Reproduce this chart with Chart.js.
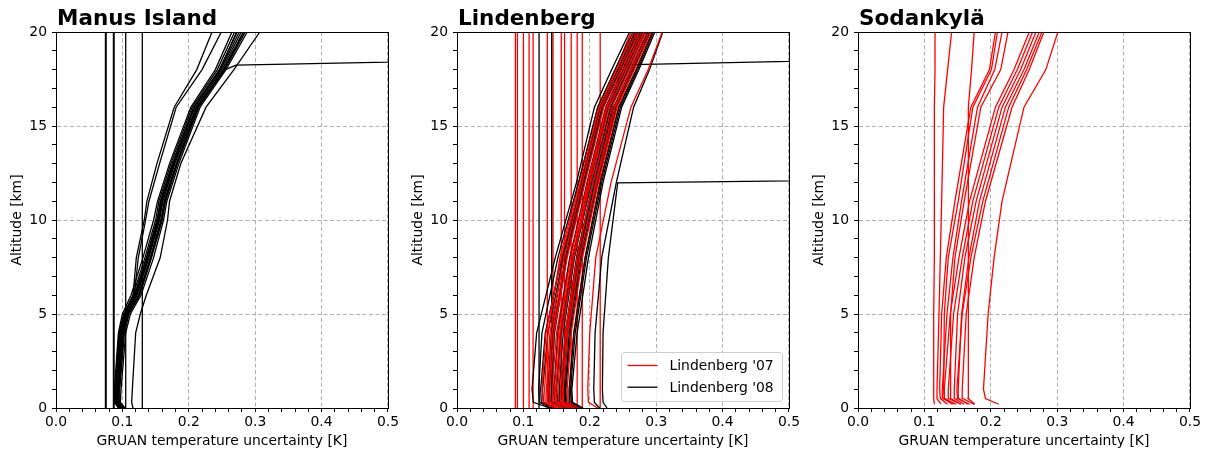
<!DOCTYPE html>
<html>
<head>
<meta charset="utf-8">
<script src="https://cdn.jsdelivr.net/npm/chart.js@4.4.1/dist/chart.umd.min.js"></script>
<style>
  html, body { margin: 0; padding: 0; background: #fff; }
  #wrap { position: relative; width: 1208px; height: 454px; }
  canvas { position: absolute; top: 0; }
</style>
</head>
<body>
<div id="wrap">
  <canvas id="manus" width="401" height="454" style="left:0px"></canvas>
  <canvas id="lind" width="401" height="454" style="left:401px"></canvas>
  <canvas id="soda" width="401" height="454" style="left:802px"></canvas>
</div>
<script>
// Temperature uncertainty profiles (K) against altitude (km) for three GRUAN sites

const FIXED_ALT = [0, 20];

// ---- Manus Island ----
const MANUS_ALT = [0, 0.3, 1, 4, 5, 6, 8, 10, 11, 13, 16, 18, 20];
const MANUS_UNC = [
    [0.094, 0.088, 0.088, 0.094, 0.100, 0.113, 0.131, 0.147, 0.153, 0.171, 0.203, 0.240, 0.265],
    [0.096, 0.089, 0.089, 0.095, 0.102, 0.116, 0.134, 0.150, 0.155, 0.173, 0.205, 0.243, 0.269],
    [0.098, 0.090, 0.090, 0.096, 0.103, 0.118, 0.136, 0.152, 0.157, 0.175, 0.207, 0.246, 0.273],
    [0.099, 0.091, 0.091, 0.097, 0.105, 0.120, 0.138, 0.154, 0.159, 0.177, 0.209, 0.248, 0.276],
    [0.101, 0.092, 0.092, 0.099, 0.106, 0.122, 0.140, 0.156, 0.161, 0.179, 0.211, 0.250, 0.279],
    [0.100, 0.093, 0.094, 0.101, 0.108, 0.124, 0.142, 0.158, 0.163, 0.181, 0.213, 0.252, 0.282],
    [0.103, 0.095, 0.096, 0.103, 0.110, 0.126, 0.144, 0.160, 0.165, 0.183, 0.215, 0.254, 0.285],
    [0.104, 0.097, 0.098, 0.105, 0.112, 0.128, 0.147, 0.162, 0.167, 0.185, 0.217, 0.256, 0.288],
    [0.097, 0.090, 0.091, 0.098, 0.104, 0.119, 0.137, 0.153, 0.158, 0.176, 0.208, 0.247, 0.272],
    [0.102, 0.094, 0.095, 0.102, 0.109, 0.125, 0.143, 0.159, 0.164, 0.182, 0.214, 0.253, 0.283],
    [0.095, 0.089, 0.089, 0.095, 0.104, 0.116, 0.121, 0.133, 0.137, 0.152, 0.178, 0.212, 0.235],
    [0.097, 0.090, 0.091, 0.097, 0.106, 0.118, 0.124, 0.135, 0.140, 0.156, 0.181, 0.220, 0.249],
    [0.116, 0.114, 0.115, 0.120, 0.127, 0.136, 0.157, 0.168, 0.171, 0.188, 0.226, 0.268, 0.307]
];
// one sounding that blows up just above 18 km
const MANUS_BAD_ALT = [0, 0.3, 1, 4, 5, 6, 8, 10, 11, 13, 16, 18, 18.24, 18.75];
const MANUS_BAD_UNC = [0.099, 0.092, 0.093, 0.100, 0.107, 0.121, 0.139, 0.155, 0.160, 0.178, 0.212, 0.255, 0.271, 1.0];
// soundings with a constant uncertainty
const MANUS_FIXED = [0.0745, 0.0755, 0.0865, 0.0875, 0.105, 0.130];

// ---- Lindenberg ----
const LIND_ALT = [0, 0.3, 1, 4, 8, 12, 16, 18, 20];
const LIND07_UNC = [
    [0.150, 0.130, 0.128, 0.134, 0.157, 0.186, 0.214, 0.240, 0.266],
    [0.155, 0.136, 0.135, 0.140, 0.161, 0.189, 0.217, 0.244, 0.270],
    [0.160, 0.141, 0.140, 0.146, 0.166, 0.193, 0.221, 0.248, 0.274],
    [0.165, 0.148, 0.147, 0.153, 0.171, 0.197, 0.225, 0.252, 0.278],
    [0.170, 0.153, 0.152, 0.158, 0.176, 0.201, 0.229, 0.256, 0.282],
    [0.174, 0.157, 0.156, 0.163, 0.181, 0.205, 0.233, 0.260, 0.285],
    [0.178, 0.161, 0.160, 0.167, 0.185, 0.209, 0.237, 0.263, 0.289],
    [0.183, 0.167, 0.166, 0.172, 0.189, 0.213, 0.241, 0.267, 0.292],
    [0.145, 0.133, 0.132, 0.137, 0.155, 0.184, 0.212, 0.239, 0.262],
    [0.168, 0.150, 0.149, 0.155, 0.173, 0.200, 0.227, 0.254, 0.280],
    [0.162, 0.144, 0.143, 0.150, 0.170, 0.198, 0.226, 0.251, 0.276],
    [0.176, 0.160, 0.159, 0.165, 0.183, 0.210, 0.239, 0.266, 0.291],
    [0.158, 0.139, 0.138, 0.143, 0.164, 0.192, 0.220, 0.247, 0.273],
    [0.186, 0.170, 0.169, 0.176, 0.193, 0.215, 0.243, 0.270, 0.295],
    [0.212, 0.198, 0.197, 0.200, 0.209, 0.232, 0.262, 0.288, 0.309]
];
const LIND07_FIXED = [0.088, 0.091, 0.100, 0.1086, 0.1146, 0.136, 0.1446, 0.157, 0.162, 0.172, 0.181, 0.1887, 0.2157];
const LIND08_UNC = [
    [0.140, 0.115, 0.113, 0.120, 0.148, 0.180, 0.207, 0.233, 0.260],
    [0.142, 0.124, 0.123, 0.128, 0.152, 0.183, 0.212, 0.238, 0.265],
    [0.150, 0.127, 0.126, 0.133, 0.158, 0.188, 0.216, 0.242, 0.268],
    [0.162, 0.143, 0.142, 0.147, 0.165, 0.192, 0.220, 0.246, 0.272],
    [0.165, 0.147, 0.146, 0.152, 0.170, 0.196, 0.224, 0.250, 0.276],
    [0.172, 0.155, 0.154, 0.160, 0.177, 0.201, 0.228, 0.254, 0.279],
    [0.175, 0.158, 0.157, 0.163, 0.180, 0.205, 0.232, 0.258, 0.283],
    [0.178, 0.162, 0.161, 0.167, 0.184, 0.208, 0.236, 0.262, 0.287],
    [0.182, 0.165, 0.164, 0.171, 0.188, 0.212, 0.240, 0.266, 0.290],
    [0.186, 0.170, 0.169, 0.176, 0.193, 0.216, 0.244, 0.270, 0.294],
    [0.190, 0.174, 0.173, 0.181, 0.198, 0.220, 0.248, 0.274, 0.298],
    [0.168, 0.152, 0.150, 0.156, 0.174, 0.199, 0.226, 0.252, 0.277],
    [0.155, 0.140, 0.139, 0.145, 0.163, 0.190, 0.218, 0.244, 0.270],
    [0.180, 0.164, 0.163, 0.169, 0.186, 0.210, 0.238, 0.264, 0.288],
    [0.158, 0.138, 0.137, 0.142, 0.160, 0.187, 0.215, 0.243, 0.268],
    [0.185, 0.172, 0.171, 0.178, 0.195, 0.218, 0.246, 0.272, 0.296],
    [0.170, 0.150, 0.149, 0.157, 0.176, 0.203, 0.231, 0.257, 0.281],
    [0.148, 0.130, 0.129, 0.137, 0.160, 0.191, 0.219, 0.246, 0.272],
    [0.215, 0.207, 0.206, 0.208, 0.218, 0.240, 0.266, 0.290, 0.310]
];
const LIND08_BAD12_ALT = [0, 0.3, 1, 4, 8, 11.97, 12.3];
const LIND08_BAD12_UNC = [0.226, 0.220, 0.219, 0.220, 0.228, 0.242, 1.0];
const LIND08_BAD18_ALT = [0, 0.3, 1, 4, 8, 12, 16, 18.25, 18.8];
const LIND08_BAD18_UNC = [0.176, 0.160, 0.159, 0.165, 0.182, 0.207, 0.234, 0.247, 1.0];
const LIND08_FIXED = [0.1236, 0.1426];
const LIND_LEGEND = ["Lindenberg '07", "Lindenberg '08"];

// ---- Sodankylä ----
const SODA_ALT = [0.2, 0.5, 1, 5, 8, 11, 16, 18, 20];
const SODA_UNC = [
    [0.115, 0.114, 0.114, 0.114, 0.115, 0.115, 0.115, 0.116, 0.116],
    [0.125, 0.119, 0.119, 0.122, 0.124, 0.126, 0.129, 0.135, 0.141],
    [0.176, 0.166, 0.166, 0.166, 0.166, 0.166, 0.167, 0.171, 0.175],
    [0.135, 0.124, 0.123, 0.126, 0.133, 0.146, 0.170, 0.198, 0.207],
    [0.142, 0.130, 0.129, 0.130, 0.136, 0.151, 0.173, 0.201, 0.210],
    [0.145, 0.128, 0.127, 0.134, 0.143, 0.156, 0.180, 0.206, 0.217],
    [0.155, 0.140, 0.139, 0.140, 0.146, 0.160, 0.185, 0.215, 0.226],
    [0.148, 0.131, 0.130, 0.139, 0.152, 0.168, 0.207, 0.235, 0.258],
    [0.155, 0.137, 0.136, 0.144, 0.157, 0.173, 0.212, 0.240, 0.263],
    [0.160, 0.146, 0.145, 0.150, 0.161, 0.178, 0.217, 0.245, 0.268],
    [0.166, 0.152, 0.151, 0.156, 0.167, 0.183, 0.222, 0.250, 0.273],
    [0.168, 0.150, 0.149, 0.157, 0.170, 0.188, 0.227, 0.254, 0.277],
    [0.175, 0.158, 0.157, 0.163, 0.175, 0.192, 0.232, 0.258, 0.280],
    [0.212, 0.192, 0.189, 0.196, 0.205, 0.217, 0.250, 0.283, 0.301]
];

const FONT = '"DejaVu Sans", sans-serif';
const RED = '#ff0000';
const BLACK = '#000000';

function isMultiple(v, step) {
    const r = v / step;
    return Math.abs(r - Math.round(r)) < 1e-6;
}

function profileSet(alt, rows, color) {
    return rows.map(row => ({
        data: row.map((u, i) => ({ x: u, y: alt[i] })),
        borderColor: color,
        borderWidth: 1.3,
        showLine: true,
        pointRadius: 0,
        tension: 0
    }));
}

function fixedSet(values, color) {
    return profileSet(FIXED_ALT, values.map(v => [v, v]), color);
}

// alternate two lists so neither colour ends up entirely on top
function interleave(a, b) {
    const out = [];
    for (let i = 0; i < Math.max(a.length, b.length); i++) {
        if (i < a.length) out.push(a[i]);
        if (i < b.length) out.push(b[i]);
    }
    return out;
}

function buildScales() {
    const font = { family: FONT, size: 13.9 };
    return {
        x: {
            type: 'linear', min: 0, max: 0.5,
            afterFit: s => { s.height = 46; },
            ticks: {
                stepSize: 0.02, autoSkip: false, maxRotation: 0, minRotation: 0,
                padding: 2, color: '#000', font,
                callback: v => isMultiple(v, 0.1) ? v.toFixed(1) : ''
            },
            grid: {
                color: c => (c.tick && isMultiple(c.tick.value, 0.1)) ? '#b0b0b0' : 'rgba(0,0,0,0)',
                lineWidth: 1, tickLength: 4, tickColor: '#000', tickWidth: 1
            },
            border: { color: '#000', width: 1, dash: [4, 2.5] },
            title: {
                display: true, text: 'GRUAN temperature uncertainty [K]', color: '#000', font,
                padding: { top: 0, bottom: 4 }
            }
        },
        y: {
            type: 'linear', min: 0, max: 20,
            afterFit: s => { s.width = 56; },
            ticks: {
                stepSize: 1, autoSkip: false, padding: 5, color: '#000', font,
                callback: v => isMultiple(v, 5) ? String(v) : ''
            },
            grid: {
                color: c => (c.tick && isMultiple(c.tick.value, 5)) ? '#b0b0b0' : 'rgba(0,0,0,0)',
                lineWidth: 1, tickLength: 4, tickColor: '#000', tickWidth: 1
            },
            border: { color: '#000', width: 1, dash: [4, 2.5] },
            title: {
                display: true, text: 'Altitude [km]', color: '#000', font,
                padding: { top: 9, bottom: 0 }
            }
        }
    };
}

// bold panel heading above the top-left corner of the axes
const panelTitle = {
    id: 'panelTitle',
    afterDraw(chart, args, opts) {
        const { ctx, chartArea } = chart;
        ctx.save();
        ctx.font = 'bold 21.5px ' + FONT;
        ctx.fillStyle = '#000';
        ctx.textBaseline = 'alphabetic';
        ctx.fillText(opts.text || '', chartArea.left + 1, chartArea.top - 7);
        ctx.restore();
    }
};

// closed box around the plotting area
const axesFrame = {
    id: 'axesFrame',
    afterDraw(chart) {
        const { ctx, chartArea: a } = chart;
        ctx.save();
        ctx.strokeStyle = '#000';
        ctx.lineWidth = 1;
        const l = Math.round(a.left) + 0.5, t = Math.round(a.top) + 0.5;
        ctx.strokeRect(l, t, Math.round(a.right) - Math.round(a.left), Math.round(a.bottom) - Math.round(a.top));
        ctx.restore();
    }
};

// legend box in the lower right corner of the axes
const insetLegend = {
    id: 'insetLegend',
    afterDraw(chart, args, opts) {
        if (!opts.items || !opts.items.length) return;
        const { ctx, chartArea } = chart;
        const w = 161, h = 49;
        const x = Math.round(chartArea.right - 7 - w) + 0.5;
        const y = Math.round(chartArea.bottom - 7 - h) + 0.5;
        ctx.save();
        ctx.beginPath();
        ctx.roundRect(x, y, w, h, 3);
        ctx.fillStyle = 'rgba(255,255,255,0.8)';
        ctx.fill();
        ctx.strokeStyle = '#cccccc';
        ctx.lineWidth = 1;
        ctx.stroke();
        ctx.font = '13.9px ' + FONT;
        ctx.textBaseline = 'middle';
        opts.items.forEach((it, i) => {
            const cy = y + 13 + i * 21.7;
            ctx.strokeStyle = it.color;
            ctx.lineWidth = 1.3;
            ctx.beginPath();
            ctx.moveTo(x + 6, cy);
            ctx.lineTo(x + 36, cy);
            ctx.stroke();
            ctx.fillStyle = '#000';
            ctx.fillText(it.label, x + 48, cy + 1);
        });
        ctx.restore();
    }
};

function makePanel(id, title, datasets, legendItems) {
    return new Chart(document.getElementById(id), {
        type: 'scatter',
        data: { datasets },
        options: {
            responsive: false,
            animation: false,
            devicePixelRatio: 1,
            events: [],
            layout: { padding: { left: 0, right: 11, top: 32, bottom: 0 } },
            scales: buildScales(),
            plugins: {
                legend: { display: false },
                tooltip: { enabled: false },
                panelTitle: { text: title },
                insetLegend: { items: legendItems || [] }
            }
        },
        plugins: [panelTitle, axesFrame, insetLegend]
    });
}

makePanel('manus', 'Manus Island', [
    ...fixedSet(MANUS_FIXED, BLACK),
    ...profileSet(MANUS_ALT, MANUS_UNC, BLACK),
    ...profileSet(MANUS_BAD_ALT, [MANUS_BAD_UNC], BLACK)
]);

makePanel('lind', 'Lindenberg', [
    ...interleave(profileSet(LIND_ALT, LIND07_UNC, RED), profileSet(LIND_ALT, LIND08_UNC, BLACK)),
    ...profileSet(LIND08_BAD12_ALT, [LIND08_BAD12_UNC], BLACK),
    ...profileSet(LIND08_BAD18_ALT, [LIND08_BAD18_UNC], BLACK),
    ...fixedSet(LIND08_FIXED, BLACK),
    ...fixedSet(LIND07_FIXED, RED)
], [
    { label: LIND_LEGEND[0], color: RED },
    { label: LIND_LEGEND[1], color: BLACK }
]);

makePanel('soda', 'Sodankylä', profileSet(SODA_ALT, SODA_UNC, RED));
</script>
</body>
</html>
